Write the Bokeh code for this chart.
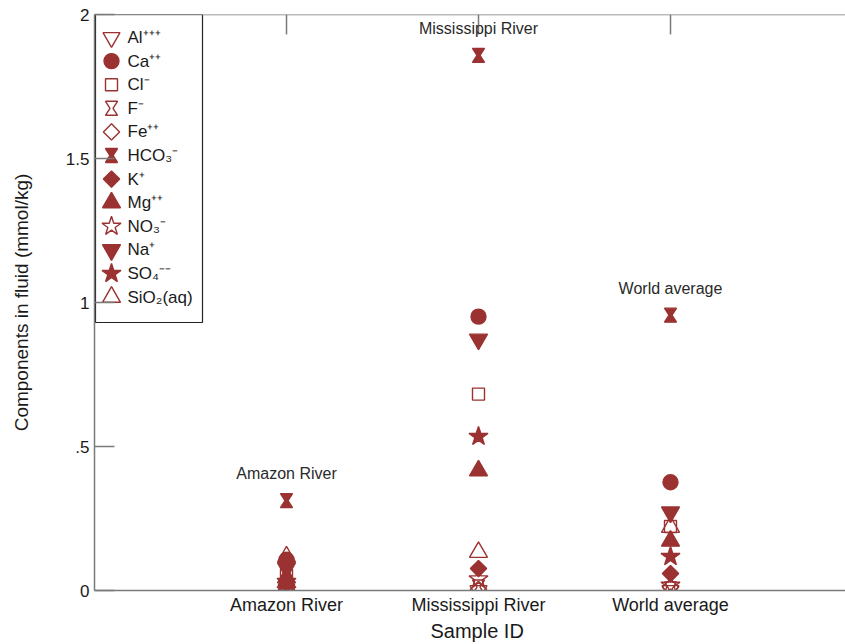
import math
from bokeh.plotting import figure
from bokeh.models import Range1d, LinearAxis, FixedTicker, Title, Span
from bokeh.embed import file_html
from bokeh.resources import INLINE
from bokeh.core.properties import value

# ---------------- data ----------------
samples = ["Amazon River", "Mississippi River", "World average"]
sample_pos = [1, 2, 3]
y_ticks = [0, 0.5, 1, 1.5, 2]
y_tick_labels = ["0", ".5", "1", "1.5", "2"]

legend_labels = ["Al⁺⁺⁺", "Ca⁺⁺", "Cl⁻", "F⁻", "Fe⁺⁺", "HCO₃⁻", "K⁺",
                 "Mg⁺⁺", "NO₃⁻", "Na⁺", "SO₄⁻⁻", "SiO₂(aq)"]

al = [0.0, 0.0, 0.0]
ca = [0.107, 0.951, 0.376]
cl = [0.054, 0.682, 0.222]
f = [0.010, 0.012, 0.005]
fe = [0.003, 0.004, 0.012]
hco3 = [0.312, 1.858, 0.956]
k = [0.021, 0.076, 0.059]
mg = [0.045, 0.416, 0.172]
no3 = [0.002, 0.040, 0.018]
na = [0.078, 0.872, 0.272]
so4 = [0.031, 0.535, 0.118]
sio2 = [0.117, 0.133, 0.220]

series = [al, ca, cl, f, fe, hco3, k, mg, no3, na, so4, sio2]

# ---------------- styles ----------------
COLOR = "#9b3232"
# (marker, filled, size, angle)
styles = [
    ("inverted_triangle", False, 17, 0),
    ("circle", True, 15, 0),
    ("square", False, 12, 0),
    ("hourglass", False, 14, 0),
    ("square", False, 11.5, math.pi / 4),
    ("hourglass", True, 14, 0),
    ("square", True, 11.5, math.pi / 4),
    ("triangle", True, 18, 0),
    ("star", False, 20, 0),
    ("inverted_triangle", True, 18, 0),
    ("star", True, 20, 0),
    ("triangle", False, 18, 0),
]

W, H = 845, 644
BORDER_L, BORDER_T, BORDER_B = 94, 14, 54
FRAME_W, FRAME_H = W - BORDER_L, H - BORDER_T - BORDER_B
PX_PER_X = 192.0
X_END = FRAME_W / PX_PER_X
Y_END = 2.0


def dx(px):
    return px / PX_PER_X


def dy(px):
    return px * Y_END / FRAME_H


p = figure(width=W, height=H, x_range=Range1d(0, X_END), y_range=Range1d(0, Y_END),
           output_backend="svg", toolbar_location=None,
           x_axis_location=None, y_axis_location=None,
           min_border_left=BORDER_L, min_border_right=0, min_border_top=BORDER_T,
           min_border_bottom=BORDER_B)
p.outline_line_color = None
p.xgrid.visible = False
p.ygrid.visible = False

AXIS_COLOR = "#7a7a7a"
FONT = "Liberation Sans"
TXT = "#1a1a1a"

left = LinearAxis(ticker=FixedTicker(ticks=y_ticks),
                  major_label_overrides={t: l for t, l in zip(y_ticks, y_tick_labels)},
                  axis_label="Components in fluid (mmol/kg)")
left.major_tick_in = 20
left.major_tick_out = 0
left.minor_tick_in = 0
left.minor_tick_out = 0
left.major_label_standoff = 5
left.axis_label_standoff = 31
left.major_label_text_font = FONT
left.major_label_text_font_size = "17px"
left.major_label_text_color = TXT
left.axis_label_text_font = FONT
left.axis_label_text_font_size = "19px"
left.axis_label_text_font_style = "normal"
left.axis_label_text_color = TXT
left.axis_line_color = AXIS_COLOR
left.axis_line_width = 1.5
left.major_tick_line_color = AXIS_COLOR
left.major_tick_line_width = 1.5
p.add_layout(left, "left")

bottom = LinearAxis(ticker=FixedTicker(ticks=sample_pos),
                    major_label_overrides={t: s for t, s in zip(sample_pos, samples)})
bottom.major_tick_in = 0
bottom.major_tick_out = 0
bottom.minor_tick_in = 0
bottom.minor_tick_out = 0
bottom.major_label_standoff = 4
bottom.major_label_text_font = FONT
bottom.major_label_text_font_size = "18px"
bottom.major_label_text_color = TXT
bottom.axis_line_color = AXIS_COLOR
bottom.axis_line_width = 1.5
p.add_layout(bottom, "below")

xlabel = Title(text="Sample ID", align="left", offset=336, standoff=0,
               text_font=FONT, text_font_size="20px", text_font_style="normal",
               text_color=TXT)
p.add_layout(xlabel, "below")

# top frame line with inward ticks at the samples
p.add_layout(Span(location=Y_END, dimension="width", line_color=AXIS_COLOR, line_width=1.5))
p.segment(x0=sample_pos, y0=[Y_END] * 3, x1=sample_pos, y1=[Y_END - dy(20)] * 3,
          line_color=AXIS_COLOR, line_width=1.5)


def hourglass(xc, yc, size):
    hw = dx(size * 0.43)
    hh = dy(size * 0.5)
    neck = dx(1.5)
    xs = [[x - hw, x + hw, x + neck, x + hw, x - hw, x - neck] for x in xc]
    ys = [[y + hh, y + hh, y, y - hh, y - hh, y] for y in yc]
    return xs, ys


def draw_marker(xc, yc, style):
    marker, filled, size, angle = style
    fill_alpha = 1.0 if filled else 0.0
    if marker == "hourglass":
        xs, ys = hourglass(xc, yc, size)
        p.patches(xs=xs, ys=ys, fill_color=COLOR, fill_alpha=fill_alpha,
                  line_color=COLOR, line_width=1.4)
    else:
        p.scatter(x=xc, y=yc, marker=marker, size=size, angle=angle, fill_color=COLOR,
                  fill_alpha=fill_alpha, line_color=COLOR, line_width=1.4)


for vals, style in zip(series, styles):
    draw_marker(sample_pos, vals, style)

# sample annotations above the highest point of each sample
tops = [max(v[i] for v in series) for i in range(len(samples))]
p.text(x=sample_pos, y=tops, text=samples, y_offset=-27, text_align="center",
       text_baseline="middle", text_font=value(FONT), text_font_size="16px",
       text_color="#2a2a2a")

# legend box (laid out in pixels, converted to data space)
p.quad(left=[dx(1)], right=[dx(108)], top=[Y_END], bottom=[Y_END - dy(308)],
       fill_color="white", line_color="#222222", line_width=1.2)
row_y = [Y_END - dy(23 + 23.6 * i) for i in range(len(legend_labels))]
for yy, style in zip(row_y, styles):
    draw_marker([dx(17)], [yy], style)
p.text(x=[dx(33)] * len(legend_labels), y=row_y, text=legend_labels,
       text_align="left", text_baseline="middle", text_font=value(FONT),
       text_font_size="17px", text_color=TXT)

open("out.html", "w").write(file_html(p, INLINE))
